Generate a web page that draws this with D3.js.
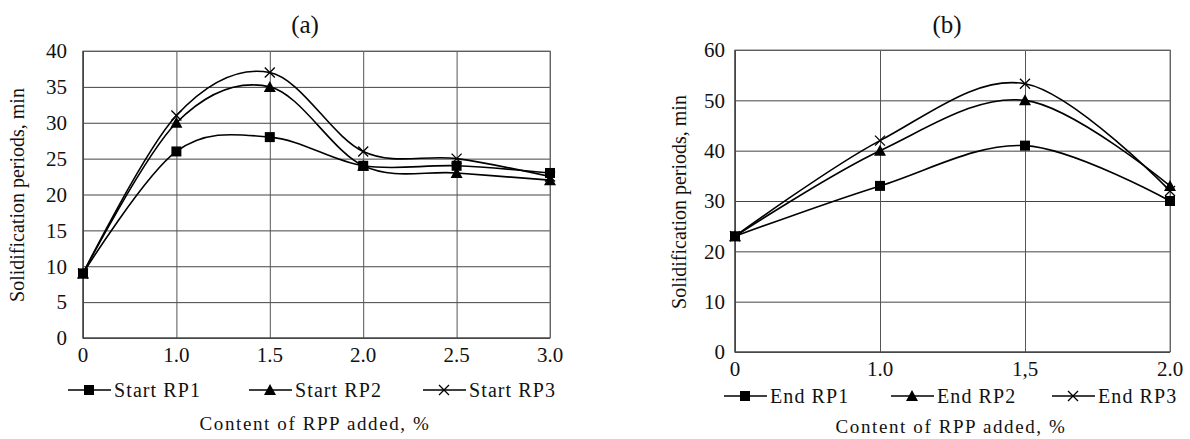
<!DOCTYPE html>
<html>
<head>
<meta charset="utf-8">
<script src="https://cdn.jsdelivr.net/npm/d3@7"></script>
<style>
  body { margin: 0; background: #fff; }
  svg text { font-family: 'Liberation Serif', 'DejaVu Serif', serif; fill: #111; }
</style>
</head>
<body>
<script>
var width = 1190;
var height = 439;
var serif = "'Liberation Serif', 'DejaVu Serif', serif";

// panel (a) data
var catsA = ["0", "1.0", "1.5", "2.0", "2.5", "3.0"];
var startRP1 = [9, 26, 28, 24, 24, 23];
var startRP2 = [9, 30, 35, 24, 23, 22];
var startRP3 = [9, 31, 37, 26, 25, 22.5];
var ticksA = [0, 5, 10, 15, 20, 25, 30, 35, 40];

// panel (b) data
var catsB = ["0", "1.0", "1,5", "2.0"];
var endRP1 = [23, 33, 41, 30];
var endRP2 = [23, 40, 50, 33];
var endRP3 = [23, 42, 53.3, 32];
var ticksB = [0, 10, 20, 30, 40, 50, 60];

var svg = d3.select("body").append("svg")
    .attr("width", width)
    .attr("height", height)
    .attr("font-family", serif);

var line = d3.line()
    .curve(d3.curveCatmullRom.alpha(0));

function drawMarker(g, type, cx, cy) {
  if (type == "square") {
    g.append("rect")
      .attr("x", cx - 5).attr("y", cy - 5)
      .attr("width", 10).attr("height", 10)
      .attr("fill", "#000");
  } else if (type == "triangle") {
    g.append("path")
      .attr("d", "M" + cx + "," + (cy - 6) + "L" + (cx + 6) + "," + (cy + 5) + "L" + (cx - 6) + "," + (cy + 5) + "Z")
      .attr("fill", "#000");
  } else {
    g.append("path")
      .attr("d", "M" + (cx - 5) + "," + (cy - 5) + "L" + (cx + 5) + "," + (cy + 5) + "M" + (cx + 5) + "," + (cy - 5) + "L" + (cx - 5) + "," + (cy + 5))
      .attr("stroke", "#000").attr("stroke-width", 1.3).attr("fill", "none");
  }
}

function drawPanel(p) {
  var g = svg.append("g");

  var x = d3.scalePoint()
      .domain(p.cats)
      .range([p.left, p.right]);

  var y = d3.scaleLinear()
      .domain([0, p.ymax])
      .range([p.bottom, p.top]);

  // horizontal grid
  g.append("g")
    .attr("transform", "translate(" + p.left + ",0)")
    .call(d3.axisLeft(y).tickValues(p.ticks).tickSize(-(p.right - p.left)).tickFormat(""))
    .call(function(a) {
      a.select(".domain").remove();
      a.selectAll("line").attr("stroke", "#444").attr("stroke-width", 1);
    });

  // vertical grid
  g.append("g")
    .attr("transform", "translate(0," + p.bottom + ")")
    .call(d3.axisBottom(x).tickSize(-(p.bottom - p.top)).tickFormat(""))
    .call(function(a) {
      a.select(".domain").remove();
      a.selectAll("line").attr("stroke", "#555").attr("stroke-width", 1);
    });

  // frame
  g.append("rect")
    .attr("x", p.left).attr("y", p.top)
    .attr("width", p.right - p.left).attr("height", p.bottom - p.top)
    .attr("fill", "none").attr("stroke", "#777").attr("stroke-width", 1);
  g.append("path")
    .attr("d", "M" + p.left + "," + p.top + "V" + p.bottom + "H" + p.right)
    .attr("fill", "none").attr("stroke", "#333").attr("stroke-width", 1.2);

  // y tick labels
  g.selectAll(".ylab")
    .data(p.ticks)
    .enter().append("text")
    .attr("x", p.left - p.ylabGap)
    .attr("y", function(d) { return y(d); })
    .attr("dy", "0.35em")
    .attr("text-anchor", "end")
    .style("font-family", serif)
    .style("font-size", "21px")
    .text(function(d) { return d; });

  // x tick labels
  g.selectAll(".xlab")
    .data(p.cats)
    .enter().append("text")
    .attr("x", function(d) { return x(d); })
    .attr("y", p.bottom + 24)
    .attr("text-anchor", "middle")
    .style("font-family", serif)
    .style("font-size", "21px")
    .text(function(d) { return d; });

  // series
  p.series.forEach(function(s) {
    var pts = s.values.map(function(v, i) { return [x(p.cats[i]), y(v)]; });
    g.append("path")
      .attr("d", line(pts))
      .attr("fill", "none")
      .attr("stroke", "#000")
      .attr("stroke-width", 1.6);
    pts.forEach(function(pt) { drawMarker(g, s.marker, pt[0], pt[1]); });
  });

  // title
  g.append("text")
    .attr("x", p.titleX).attr("y", 33)
    .attr("text-anchor", "middle")
    .style("font-family", serif)
    .style("font-size", "25px")
    .text(p.title);

  // y axis title
  g.append("text")
    .attr("transform", "translate(" + p.ytitleX + "," + p.ytitleY + ") rotate(-90)")
    .attr("text-anchor", "middle")
    .style("font-family", serif)
    .style("font-size", "20px")
    .text("Solidification periods, min");

  // legend
  p.series.forEach(function(s, i) {
    var lx = p.legendX[i];
    g.append("line")
      .attr("x1", lx).attr("x2", lx + 43)
      .attr("y1", p.legendY).attr("y2", p.legendY)
      .attr("stroke", "#000").attr("stroke-width", 1.6);
    drawMarker(g, s.marker, lx + 21, p.legendY);
    g.append("text")
      .attr("x", lx + 46).attr("y", p.legendY)
      .attr("dy", "0.35em")
      .style("font-family", serif)
      .style("font-size", "20px")
      .style("letter-spacing", "1.1px")
      .text(s.name);
  });

  // x axis title
  g.append("text")
    .attr("x", p.xtitleX).attr("y", p.xtitleY)
    .attr("text-anchor", "middle")
    .style("font-family", serif)
    .style("font-size", "19px")
    .style("letter-spacing", "1.6px")
    .text("Content of RPP added, %");
}

drawPanel({
  cats: catsA, ymax: 40, ticks: ticksA,
  left: 83, right: 550, top: 51, bottom: 338,
  ylabGap: 16,
  title: "(a)", titleX: 305,
  ytitleX: 24, ytitleY: 195,
  legendY: 390, legendX: [68, 249, 423],
  xtitleX: 315, xtitleY: 430,
  series: [
    {name: "Start RP1", values: startRP1, marker: "square"},
    {name: "Start RP2", values: startRP2, marker: "triangle"},
    {name: "Start RP3", values: startRP3, marker: "cross"}
  ]
});

drawPanel({
  cats: catsB, ymax: 60, ticks: ticksB,
  left: 735, right: 1170, top: 50, bottom: 352,
  ylabGap: 10,
  title: "(b)", titleX: 947,
  ytitleX: 686, ytitleY: 202,
  legendY: 396, legendX: [724, 891, 1052],
  xtitleX: 951, xtitleY: 433,
  series: [
    {name: "End RP1", values: endRP1, marker: "square"},
    {name: "End RP2", values: endRP2, marker: "triangle"},
    {name: "End RP3", values: endRP3, marker: "cross"}
  ]
});
</script>
</body>
</html>
